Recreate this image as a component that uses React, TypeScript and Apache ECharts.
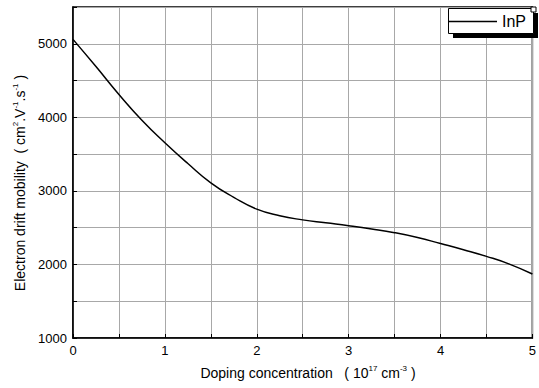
import React, { useEffect, useRef } from "react";
import * as echarts from "echarts";

const seriesName = "InP";
const doping = [0, 0.25, 0.5, 0.75, 1, 1.25, 1.5, 1.75, 2, 2.25, 2.5, 2.75, 3, 3.25, 3.5, 3.75, 4, 4.25, 4.5, 4.75, 5];
const mobility = [5060, 4690, 4310, 3960, 3654, 3372, 3110, 2912, 2752, 2662, 2606, 2566, 2527, 2483, 2432, 2366, 2284, 2200, 2110, 2005, 1870];

const xMin = 0;
const xMax = 5;
const xStep = 0.5;
const yMin = 1000;
const yMax = 5500;
const yStep = 500;

const FONT = '"Liberation Sans", Arial, sans-serif';

export default function App() {
  const ref = useRef<HTMLDivElement>(null);

  useEffect(() => {
    if (!ref.current) return;
    const chart = echarts.init(ref.current, undefined, { renderer: "svg" });
    const data = doping.map((x, i) => [x, mobility[i]]);
    const rich = {
      n: { fontSize: 14, fontFamily: FONT, color: "#000", lineHeight: 16, verticalAlign: "bottom" },
      s: { fontSize: 8, fontFamily: FONT, color: "#000", lineHeight: 9, verticalAlign: "bottom", padding: [0, 0, 8, 0] },
    };
    chart.setOption({
      animation: false,
      backgroundColor: "#fff",
      grid: {
        left: 73,
        right: 2,
        top: 7,
        bottom: 50,
        show: true,
        borderColor: "#000",
        borderWidth: 1.5,
        backgroundColor: "transparent",
      },
      xAxis: {
        type: "value",
        min: xMin,
        max: xMax,
        interval: xStep,
        axisLine: { show: true, lineStyle: { color: "#000", width: 1.5 } },
        axisTick: { show: true, inside: true, length: 4, lineStyle: { color: "#000", width: 1 } },
        splitLine: { show: true, lineStyle: { color: "#a8a8a8", width: 1 } },
        axisLabel: {
          margin: 6,
          color: "#000",
          fontSize: 13,
          fontFamily: FONT,
          formatter: (v: number) => (Number.isInteger(v) ? String(v) : ""),
        },
      },
      yAxis: {
        type: "value",
        min: yMin,
        max: yMax,
        interval: yStep,
        axisLine: { show: true, lineStyle: { color: "#000", width: 1.5 } },
        axisTick: { show: true, inside: true, length: 4, lineStyle: { color: "#000", width: 1 } },
        splitLine: { show: true, lineStyle: { color: "#a8a8a8", width: 1 } },
        axisLabel: {
          margin: 6,
          color: "#000",
          fontSize: 13,
          fontFamily: FONT,
          formatter: (v: number) => (v % 1000 === 0 ? String(v) : ""),
        },
      },
      legend: {
        show: true,
        left: 449,
        top: 8,
        z: 7,
        padding: [5, 0, 3, 0],
        itemWidth: 48,
        itemHeight: 1.5,
        icon: "rect",
        selectedMode: false,
        textStyle: { fontSize: 16, fontFamily: FONT, color: "#000", lineHeight: 17 },
        data: [{ name: seriesName }],
      },
      graphic: [
        {
          type: "rect",
          z: 5,
          shape: { x: 453, y: 13, width: 85, height: 25 },
          style: { fill: "#000" },
        },
        {
          type: "rect",
          z: 6,
          shape: { x: 448.5, y: 8.5, width: 85, height: 25 },
          style: { fill: "#fff", stroke: "#000", lineWidth: 1 },
        },
        {
          type: "rect",
          z: 8,
          shape: { x: 531, y: 7, width: 5, height: 5 },
          style: { fill: "#fff", stroke: "#000", lineWidth: 1 },
        },
        {
          type: "text",
          x: 19,
          y: 183,
          rotation: Math.PI / 2,
          style: {
            text: "{n|Electron drift mobility  ( cm}{s|2}{n|.V}{s|-1}{n|.s}{s|-1}{n| )}",
            rich,
            align: "center",
            verticalAlign: "middle",
          },
        },
        {
          type: "text",
          x: 308,
          y: 372,
          style: {
            text: "{n|Doping concentration   ( 10}{s|17}{n| cm}{s|-3}{n| )}",
            rich,
            align: "center",
            verticalAlign: "middle",
          },
        },
      ],
      series: [
        {
          name: seriesName,
          type: "line",
          data,
          smooth: true,
          symbol: "none",
          lineStyle: { color: "#000", width: 1.5 },
          itemStyle: { color: "#000" },
          z: 3,
        },
      ],
    });
    return () => chart.dispose();
  }, []);

  return <div ref={ref} style={{ width: 539, height: 388, position: "absolute", left: 0, top: 0 }} />;
}
